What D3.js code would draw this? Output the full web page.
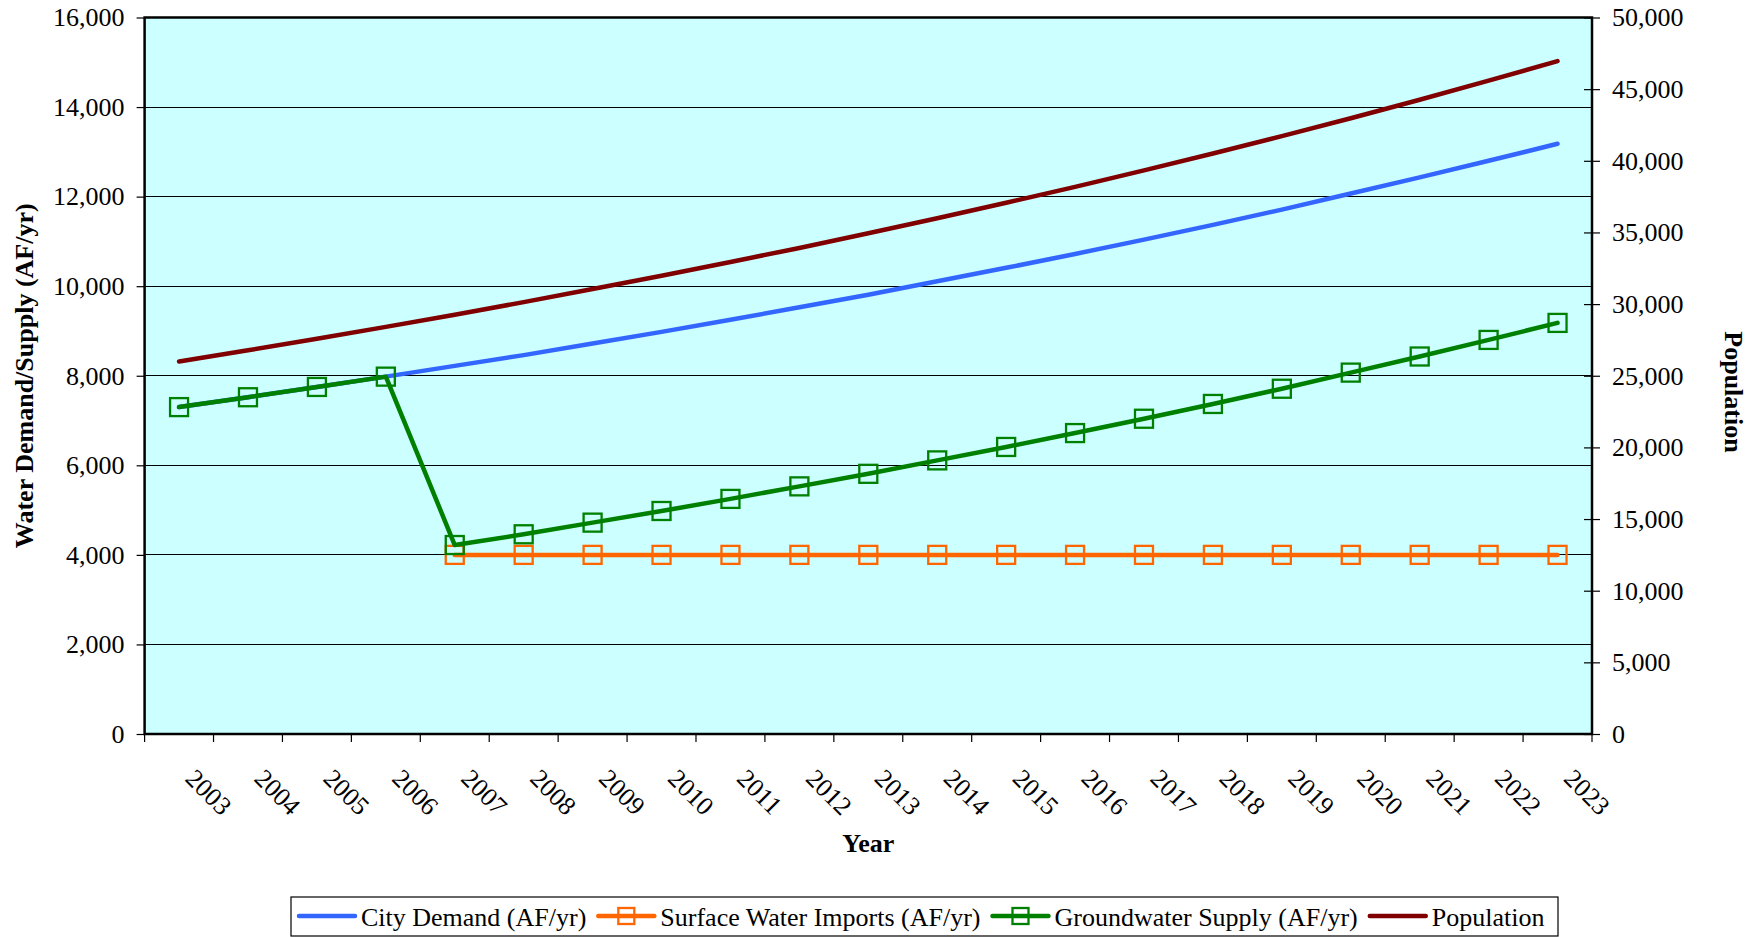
<!DOCTYPE html>
<html>
<head>
<meta charset="utf-8">
<script src="https://cdn.jsdelivr.net/npm/d3@7"></script>
<style>
  body { margin: 0; background: #fff; }
  text { font-family: "Liberation Serif", "Times New Roman", serif; fill: #000; }
</style>
</head>
<body>
<svg id="chart" width="1758" height="937"></svg>
<script>
// values
var years = [2003, 2004, 2005, 2006, 2007, 2008, 2009, 2010, 2011, 2012, 2013,
             2014, 2015, 2016, 2017, 2018, 2019, 2020, 2021, 2022, 2023];
var cityDemand = [7300, 7520, 7750, 7980, 8220, 8460, 8720, 8980, 9250, 9530, 9810,
                  10110, 10410, 10720, 11040, 11370, 11710, 12070, 12430, 12800, 13180];
var surfaceImports = [null, null, null, null, 4000, 4000, 4000, 4000, 4000, 4000, 4000,
                      4000, 4000, 4000, 4000, 4000, 4000, 4000, 4000, 4000, 4000];
var groundwater = [7300, 7520, 7750, 7980, 4220, 4460, 4720, 4980, 5250, 5530, 5810,
                   6110, 6410, 6720, 7040, 7370, 7710, 8070, 8430, 8800, 9180];
var population = [26000, 26780, 27580, 28410, 29260, 30140, 31050, 31980, 32940, 33920, 34940,
                  35990, 37070, 38180, 39330, 40510, 41720, 42970, 44260, 45590, 46960];
var leftTicks = [0, 2000, 4000, 6000, 8000, 10000, 12000, 14000, 16000];
var rightTicks = [0, 5000, 10000, 15000, 20000, 25000, 30000, 35000, 40000, 45000, 50000];

var svg = d3.select("#chart"),
    plot = {left: 144.6, top: 17.5, right: 1592, bottom: 734},
    fontSize = 26;

var x = d3.scaleBand().domain(years).range([plot.left, plot.right]).padding(0);
var y = d3.scaleLinear().domain([0, 16000]).range([plot.bottom, plot.top]);
var y2 = d3.scaleLinear().domain([0, 50000]).range([plot.bottom, plot.top]);
var cx = function(d, i) { return x(years[i]) + x.bandwidth() / 2; };

// plot area
svg.append("rect")
    .attr("x", plot.left).attr("y", plot.top)
    .attr("width", plot.right - plot.left).attr("height", plot.bottom - plot.top)
    .attr("fill", "#CCFFFF");

svg.append("g")
    .selectAll("line")
    .data(leftTicks)
  .enter().append("line")
    .attr("x1", plot.left).attr("x2", plot.right)
    .attr("y1", function(d) { return y(d); })
    .attr("y2", function(d) { return y(d); })
    .attr("stroke", "#000").attr("stroke-width", 1)
    .attr("shape-rendering", "crispEdges");

// left axis
var gl = svg.append("g")
    .attr("transform", "translate(" + plot.left + ",0)")
    .call(d3.axisLeft(y).tickValues(leftTicks).tickSize(8).tickPadding(12).tickFormat(d3.format(",")));
gl.select(".domain").remove();
gl.selectAll("line").attr("stroke", "#000").attr("stroke-width", 1.2);
gl.selectAll("text").style("font-size", fontSize + "px").style("font-family", "'Liberation Serif', serif");

// right axis, ticks cross the axis line
var gr = svg.append("g")
    .attr("transform", "translate(" + plot.right + ",0)")
    .call(d3.axisRight(y2).tickValues(rightTicks).tickSize(8).tickPadding(12).tickFormat(d3.format(",")));
gr.select(".domain").remove();
gr.selectAll("line").attr("x1", -8).attr("stroke", "#000").attr("stroke-width", 1.2);
gr.selectAll("text").style("font-size", fontSize + "px").style("font-family", "'Liberation Serif', serif");

// x axis ticks at category edges
var edges = years.map(function(d) { return x(d); }).concat([plot.right]);
svg.append("g")
    .selectAll("line")
    .data(edges)
  .enter().append("line")
    .attr("x1", function(d) { return d; }).attr("x2", function(d) { return d; })
    .attr("y1", plot.bottom).attr("y2", plot.bottom + 8)
    .attr("stroke", "#000").attr("stroke-width", 1.2);

svg.append("g")
    .selectAll("text")
    .data(years)
  .enter().append("text")
    .attr("transform", function(d) {
      return "translate(" + (x(d) + x.bandwidth() / 2 + 5) + "," + (plot.bottom + 46) + ") rotate(45)";
    })
    .style("font-size", fontSize + "px")
    .text(function(d) { return d; });

// frame
svg.append("rect")
    .attr("x", plot.left).attr("y", plot.top)
    .attr("width", plot.right - plot.left).attr("height", plot.bottom - plot.top)
    .attr("fill", "none").attr("stroke", "#000").attr("stroke-width", 2.5);

// series
var series = [
  {name: "City Demand (AF/yr)", values: cityDemand, color: "#3366FF", scale: y, marker: false},
  {name: "Surface Water Imports (AF/yr)", values: surfaceImports, color: "#FF6600", scale: y, marker: true},
  {name: "Groundwater Supply (AF/yr)", values: groundwater, color: "#008000", scale: y, marker: true},
  {name: "Population", values: population, color: "#800000", scale: y2, marker: false}
];

series.forEach(function(s) {
  var line = d3.line()
      .defined(function(d) { return d != null; })
      .x(cx)
      .y(function(d) { return s.scale(d); });
  svg.append("path")
      .datum(s.values)
      .attr("d", line)
      .attr("fill", "none")
      .attr("stroke", s.color)
      .attr("stroke-width", 4.5)
      .attr("stroke-linecap", "round")
      .attr("stroke-linejoin", "round");
  if (s.marker) {
    svg.append("g")
        .selectAll("rect")
        .data(s.values.map(function(v, i) { return {v: v, i: i}; }).filter(function(d) { return d.v != null; }))
      .enter().append("rect")
        .attr("x", function(d) { return cx(d.v, d.i) - 9; })
        .attr("y", function(d) { return s.scale(d.v) - 9; })
        .attr("width", 18).attr("height", 18)
        .attr("fill", "none")
        .attr("stroke", s.color)
        .attr("stroke-width", 2.3);
  }
});

// axis titles
svg.append("text")
    .attr("transform", "translate(33," + ((plot.top + plot.bottom) / 2) + ") rotate(-90)")
    .attr("text-anchor", "middle")
    .style("font-size", fontSize + "px").style("font-weight", "bold")
    .text("Water Demand/Supply (AF/yr)");

svg.append("text")
    .attr("transform", "translate(1725,392) rotate(90)")
    .attr("text-anchor", "middle")
    .style("font-size", fontSize + "px").style("font-weight", "bold")
    .text("Population");

svg.append("text")
    .attr("x", (plot.left + plot.right) / 2).attr("y", 852)
    .attr("text-anchor", "middle")
    .style("font-size", fontSize + "px").style("font-weight", "bold")
    .text("Year");

// legend
var legend = svg.append("g");
legend.append("rect")
    .attr("x", 291).attr("y", 897).attr("width", 1267).attr("height", 39)
    .attr("fill", "#fff").attr("stroke", "#000").attr("stroke-width", 1.2);

var lx = 297, ly = 916;
series.forEach(function(s) {
  var item = legend.append("g").attr("transform", "translate(" + lx + "," + ly + ")");
  item.append("line")
      .attr("x1", 2).attr("x2", 58).attr("y1", 0).attr("y2", 0)
      .attr("stroke", s.color).attr("stroke-width", 4.5).attr("stroke-linecap", "round");
  if (s.marker) {
    item.append("rect")
        .attr("x", 22).attr("y", -8).attr("width", 16).attr("height", 16)
        .attr("fill", "none").attr("stroke", s.color).attr("stroke-width", 2.3);
  }
  var t = item.append("text")
      .attr("x", 64).attr("y", 9.5)
      .style("font-size", fontSize + "px")
      .text(s.name);
  lx += 64 + t.node().getComputedTextLength() + 10;
});
</script>
</body>
</html>
